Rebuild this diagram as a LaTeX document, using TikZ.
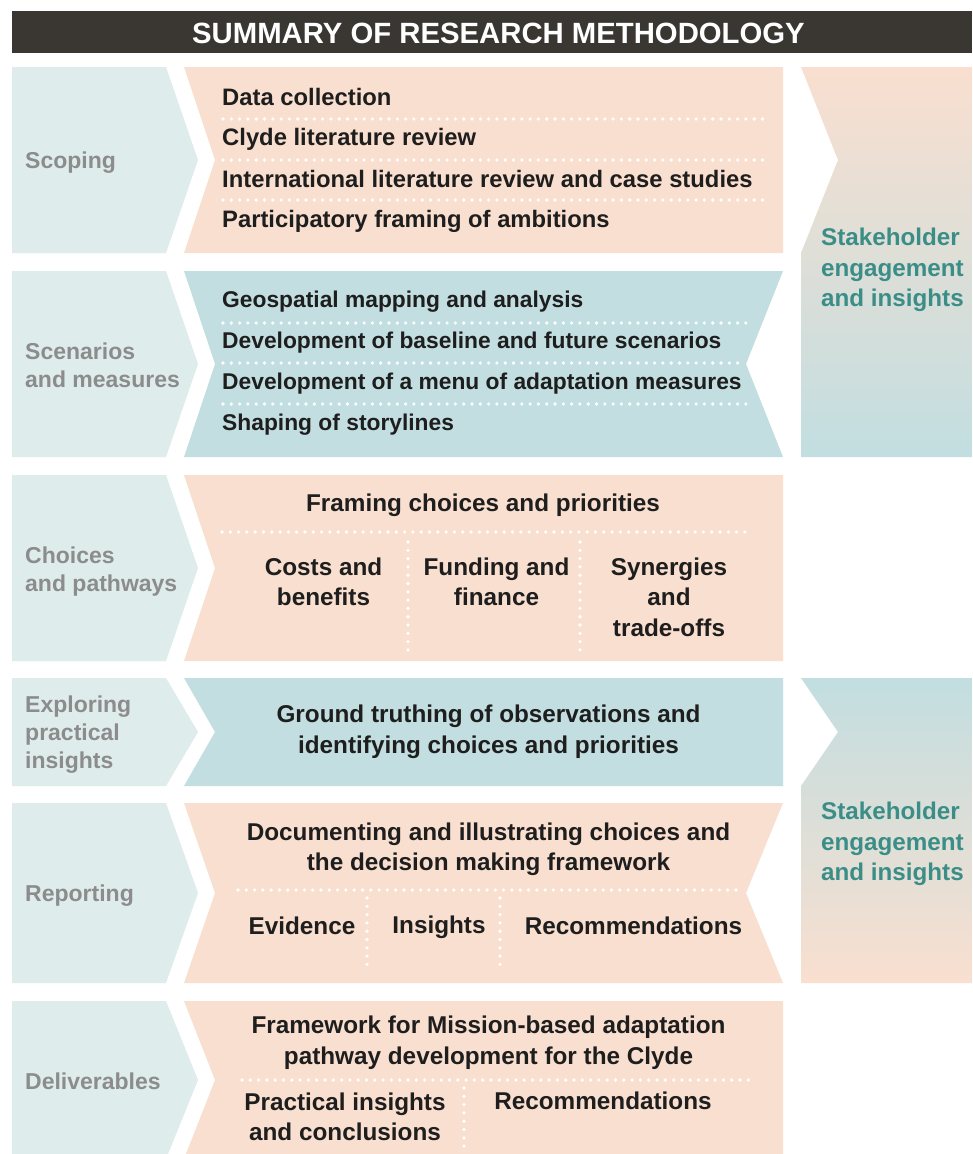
\documentclass[tikz,border=0pt]{standalone}
\usepackage{fontspec}
\setmainfont{Liberation Sans}
\usetikzlibrary{calc}
\definecolor{leftbg}{HTML}{DEECEC}
\definecolor{peach}{HTML}{F9DFCF}
\definecolor{tealbg}{HTML}{C2DEE0}
\definecolor{titlebg}{HTML}{3A3733}
\definecolor{labelgray}{HTML}{8C8C8C}
\definecolor{txtdark}{HTML}{1E1E1E}
\definecolor{staketxt}{HTML}{3A8E87}
% left chevron: top, mid, bottom
\newcommand{\mkleftchev}[3]{\fill[leftbg] (12,#1) -- (166,#1) -- (198,#2) -- (166,#3) -- (12,#3) -- cycle;}
% main box, straight right edge: colour, top, mid, bottom
\newcommand{\mkmainbox}[4]{\fill[#1] (184,#2) -- (783,#2) -- (783,#4) -- (184,#4) -- (215,#3) -- cycle;}
% main box, notched right edge
\newcommand{\mkmainnotch}[4]{\fill[#1] (184,#2) -- (783,#2) -- (746,#3) -- (783,#4) -- (184,#4) -- (215,#3) -- cycle;}
\begin{document}
\begin{tikzpicture}[x=1pt,y=-1pt,
  body/.style={font=\fontsize{24.3}{30.5}\selectfont\bfseries, text=txtdark, inner sep=0pt, align=center},
  bodyl/.style={font=\fontsize{23.8}{30.5}\selectfont\bfseries, text=txtdark, inner sep=0pt, anchor=west},
  bodys/.style={font=\fontsize{22.8}{30.5}\selectfont\bfseries, text=txtdark, inner sep=0pt, anchor=west},
  lbl/.style={font=\fontsize{23}{28}\selectfont\bfseries, text=labelgray, inner sep=0pt, align=left, anchor=west},
  stake/.style={font=\fontsize{24.2}{30.5}\selectfont\bfseries, text=staketxt, inner sep=0pt, align=left, anchor=west},
  dots/.style={white, line width=3.6pt, line cap=round, dash pattern=on 0pt off 8.3pt},
]
\useasboundingbox (0,0) rectangle (972,1154);
\fill[white] (0,0) rectangle (972,1154);
\begin{scope}
\clip (0,0) rectangle (972,1154);
% title
\fill[titlebg] (12,11) rectangle (972,53);
\node[text=white, inner sep=0pt, font=\fontsize{29.3}{35}\selectfont\bfseries] (title) at (498.5,33) {SUMMARY OF RESEARCH METHODOLOGY};

% left chevrons
\mkleftchev{67}{160}{253}
\mkleftchev{271}{364}{457}
\mkleftchev{475}{568}{661}
\mkleftchev{678}{732}{786}
\mkleftchev{803}{893}{983}
\mkleftchev{1001}{1080}{1159}

% main boxes
\mkmainbox{peach}{67}{160}{253}
\mkmainnotch{tealbg}{271}{364}{457}
\mkmainbox{peach}{475}{568}{661}
\mkmainbox{tealbg}{678}{732}{786}
\mkmainnotch{peach}{803}{893}{983}
\mkmainbox{peach}{1001}{1080}{1159}

% right stakeholder boxes
\shade[top color=peach, bottom color=tealbg] (801,67) -- (972,67) -- (972,457) -- (801,457) -- (801,253) -- (838,160) -- cycle;
\shade[top color=tealbg, bottom color=peach] (801,678) -- (972,678) -- (972,983) -- (801,983) -- (801,786) -- (838,732) -- cycle;

% left labels
\node[lbl] (lscope) at (25,163) {Scoping};
\node[lbl] (lscen) at (25,365) {Scenarios\\and measures};
\node[lbl] (lchoice) at (25,572) {Choices\\and pathways};
\node[lbl] (lexpl) at (25,735) {Exploring\\practical\\insights};
\node[lbl] (lrep) at (25,896) {Reporting};
\node[lbl] (ldeliv) at (25,1081) {Deliverables};

% scoping
\node[bodyl] (s1) at (222,97) {Data collection};
\node[bodyl] (s2) at (222,139) {Clyde literature review};
\node[bodyl] (s3) at (222,179) {International literature review and case studies};
\node[bodyl] (s4) at (222,221) {Participatory framing of ambitions};
\draw[dots] (223,119) -- (765,119);
\draw[dots] (223,160) -- (765,160);
\draw[dots] (223,200) -- (765,200);

% scenarios
\node[bodys] (c1) at (222,302) {Geospatial mapping and analysis};
\node[bodys] (c2) at (222,343) {Development of baseline and future scenarios};
\node[bodys] (c3) at (222,384) {Development of a menu of adaptation measures};
\node[bodys] (c4) at (222,425) {Shaping of storylines};
\draw[dots] (223,323) -- (746,323);
\draw[dots] (223,363) -- (739,363);
\draw[dots] (223,404) -- (746,404);

% choices
\node[body] (ch0) at (483,505) {Framing choices and priorities};
\draw[dots] (222,532) -- (745,532);
\draw[dots] (408,542) -- (408,650);
\draw[dots] (580,542) -- (580,650);
\node[body] (ch1) at (323.5,582) {Costs and\\benefits};
\node[body] (ch2) at (496.5,582) {Funding and\\finance};
\node[body] (ch3) at (669,597) {Synergies\\and\\trade-offs};

% exploring
\node[body] (ex) at (488.5,732) {Ground truthing of observations and\\identifying choices and priorities};

% reporting
\node[body] (rp0) at (488.5,849.5) {Documenting and illustrating choices and\\the decision making framework};
\draw[dots] (238,890) -- (738,890);
\draw[dots] (367,898) -- (367,968);
\draw[dots] (500,898) -- (500,968);
\node[body] (rp1) at (302,926) {Evidence};
\node[body] (rp2) at (439,927) {Insights};
\node[body] (rp3) at (633.5,926) {Recommendations};

% deliverables
\node[body] (dv0) at (488.5,1042.5) {Framework for Mission-based adaptation\\pathway development for the Clyde};
\draw[dots] (242,1080) -- (750,1080);
\draw[dots] (464,1088) -- (464,1152);
\node[body] (dv1) at (345,1117) {Practical insights\\and conclusions};
\node[body] (dv2) at (603,1101) {Recommendations};

% stakeholder texts
\node[stake] (st1) at (821,270) {Stakeholder\\engagement\\and insights};
\node[stake] (st2) at (821,844) {Stakeholder\\engagement\\and insights};
\end{scope}
\end{tikzpicture}
\end{document}
